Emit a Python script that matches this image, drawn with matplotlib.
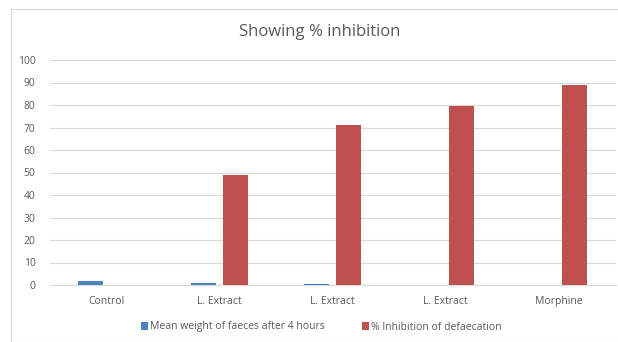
import matplotlib.pyplot as plt
import numpy as np
from matplotlib.patches import Rectangle

categories = ["Control", "L. Extract", "L. Extract", "L. Extract", "Morphine"]
mean_weight = [2.0, 1.1, 0.6, 0.0, 0.0]
inhibition = [0.0, 48.7, 71.1, 79.5, 89.1]
series_names = ["Mean weight of faeces after 4 hours", "% Inhibition of defaecation"]
yticks = list(range(0, 101, 10))

plt.rcParams['font.family'] = ['Open Sans', 'DejaVu Sans']

fig = plt.figure(figsize=(6.18, 3.42), dpi=100)
fig.patch.set_facecolor('white')
fig.patches.append(Rectangle((11/618, 0), 1.0, 1 - 9/342, transform=fig.transFigure,
                             fill=False, edgecolor='#D9D9D9', linewidth=0.8))
ax = fig.add_axes([49.5/618, 1 - 285/342, 566/618, 225/342])

x = np.arange(len(categories))
w = 0.22
off = 0.14
ax.bar(x - off, mean_weight, w, color='#4F81BD', label=series_names[0], zorder=3)
ax.bar(x + off, inhibition, w, color='#C0504D', label=series_names[1], zorder=3)

ax.set_xlim(-0.5, len(categories) - 0.5)
ax.set_ylim(0, 100)
ax.set_yticks(yticks)
ax.set_xticks(x)
ax.set_xticklabels(categories)
ax.tick_params(axis='both', length=0, labelsize=7.5, colors='#595959')
ax.tick_params(axis='x', pad=8)
ax.tick_params(axis='y', pad=10)
ax.grid(axis='y', color='#D9D9D9', linewidth=0.8, zorder=0)
for s in ['top', 'right', 'left']:
    ax.spines[s].set_visible(False)
ax.spines['bottom'].set_color('#D9D9D9')

fig.text(320/618, 1 - 32/342, "Showing % inhibition", ha='center', va='center',
         fontsize=12, color='#595959')

fig.legend(loc='center', bbox_to_anchor=(0.52, 1 - 327/342), ncol=2, frameon=False,
           fontsize=7.5, labelcolor='#595959', handlelength=0.7, handleheight=0.7,
           handletextpad=0.2, columnspacing=3.5)

fig.savefig('out.png', dpi=100)
